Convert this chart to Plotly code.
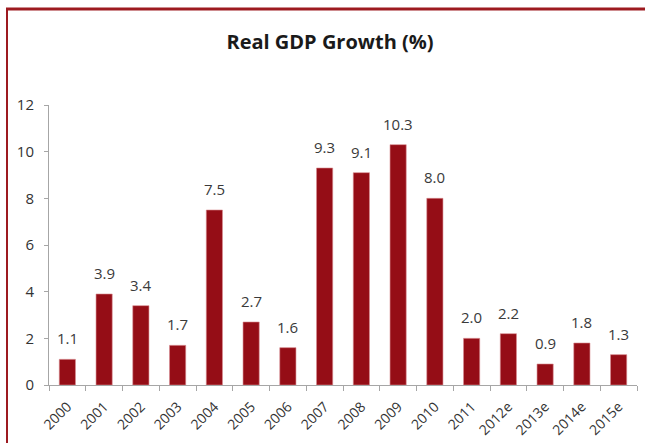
import plotly.graph_objects as go

years = ["2000", "2001", "2002", "2003", "2004", "2005", "2006", "2007",
         "2008", "2009", "2010", "2011", "2012e", "2013e", "2014e", "2015e"]
growth = [1.1, 3.9, 3.4, 1.7, 7.5, 2.7, 1.6, 9.3, 9.1, 10.3, 8.0, 2.0, 2.2, 0.9, 1.8, 1.3]
y_ticks = [0, 2, 4, 6, 8, 10, 12]

W, H = 645, 443
L, R, T, B = 49, 8, 105, 58
pw, ph = W - L - R, H - T - B

def px(x):
    return (x - L) / pw

def py(y):
    return (H - B - y) / ph

bar_color = "#950d16"
border_color = "#9d1a20"

fig = go.Figure(go.Bar(
    x=years, y=growth,
    marker=dict(color=bar_color, line=dict(color="#d98a8e", width=0.6)),
))

# category axis: annotation x given as category index
for i, v in enumerate(growth):
    fig.add_annotation(x=i, y=v, text=f"{v:.1f}", showarrow=False,
                       yanchor="bottom", yshift=9,
                       font=dict(family="Open Sans, Lato, sans-serif", size=15, color="#3a3a3a"))

fig.update_layout(
    width=W, height=H,
    margin=dict(l=L, r=R, t=T, b=B, pad=0),
    plot_bgcolor="white", paper_bgcolor="white",
    bargap=0.56,
    showlegend=False,
    title=dict(text="<b>Real GDP Growth (%)</b>", x=330 / W, xanchor="center",
               xref="container", y=1 - 42 / H, yanchor="middle",
               font=dict(family="Open Sans, Lato, sans-serif", size=20, color="#1a1a1a")),
    xaxis=dict(type="category", range=[-0.5, len(years) - 0.5],
               showline=True, linecolor="#a6a6a6", linewidth=1,
               ticks="outside", ticklen=5, tickcolor="#a6a6a6", tickangle=-45,
               showgrid=False, tickson="boundaries", automargin=False,
               ticklabelstandoff=7,
               tickfont=dict(family="Open Sans, sans-serif", size=14, color="#333333")),
    yaxis=dict(range=[0, 12], tickvals=y_ticks, showline=True, linecolor="#a6a6a6",
               linewidth=1, ticks="outside", ticklen=4, tickcolor="#a6a6a6",
               showgrid=False, zeroline=False, automargin=False,
               ticklabelstandoff=7,
               tickfont=dict(family="Open Sans, sans-serif", size=15, color="#333333")),
    shapes=[
        dict(type="line", xref="paper", yref="paper", x0=px(6), x1=px(W + 2),
             y0=py(9), y1=py(9), line=dict(color=border_color, width=3)),
        dict(type="line", xref="paper", yref="paper", x0=px(7), x1=px(7),
             y0=py(8), y1=py(H + 2), line=dict(color=border_color, width=2)),
    ],
)

fig.write_html("out.html", config={"displayModeBar": False},
               post_script="document.body.style.margin='0';document.body.style.overflow='hidden';")
